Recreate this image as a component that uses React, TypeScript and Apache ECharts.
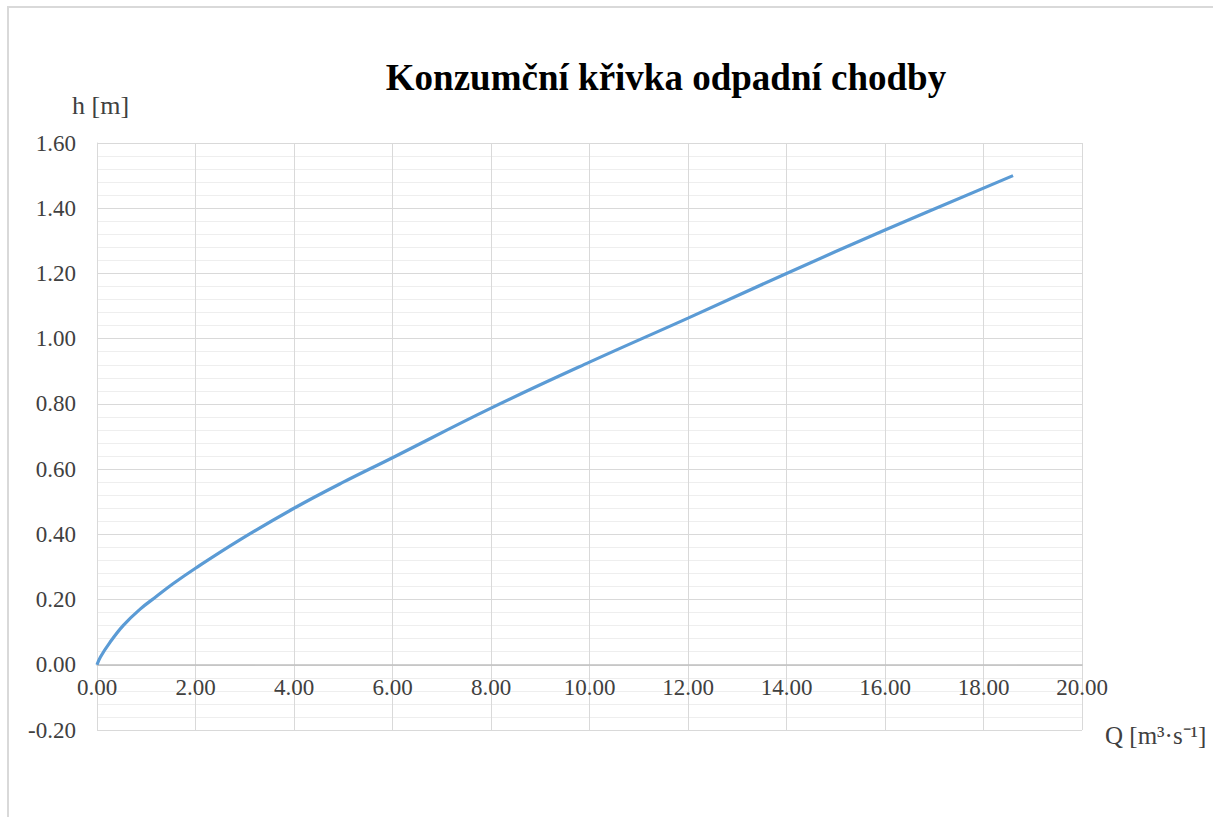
import React, { useEffect, useRef } from "react";
import * as echarts from "echarts";

const titleText = "Konzumční křivka odpadní chodby";
const yAxisName = "h [m]";
const xAxisName = "Q [m³·s⁻¹]";

const flowQ = [0, 0.07, 0.26, 0.53, 0.87, 1.21, 1.55, 2.0, 2.9, 4.0, 5.0, 6.0, 8.0, 10.0, 12.0, 14.0, 16.0, 18.6];
const levelH = [0, 0.024, 0.068, 0.12, 0.17, 0.21, 0.249, 0.296, 0.383, 0.48, 0.56, 0.635, 0.787, 0.928, 1.063, 1.2, 1.333, 1.5];

const serif = "'Liberation Serif', 'Times New Roman', serif";

export default function App() {
  const ref = useRef<HTMLDivElement>(null);
  useEffect(() => {
    if (!ref.current) return;
    const chart = echarts.init(ref.current, null, { renderer: "svg" });
    const data = flowQ.map((q, i) => [q, levelH[i]]);
    chart.setOption({
      animation: false,
      backgroundColor: "#ffffff",
      title: {
        text: titleText,
        left: 661,
        top: 54,
        textAlign: "center",
        textStyle: { fontFamily: serif, fontSize: 37, fontWeight: "bold", color: "#000000" },
      },
      graphic: [
        {
          type: "rect",
          shape: { x: 8, y: 7, width: 1300, height: 900 },
          style: { fill: "none", stroke: "#d9d9d9", lineWidth: 2 },
          silent: true,
        },
        {
          type: "text",
          x: 72,
          y: 105,
          style: { text: yAxisName, font: `26px ${serif}`, fill: "#404040", textVerticalAlign: "middle" },
        },
        {
          type: "text",
          x: 1105,
          y: 735,
          style: { text: xAxisName, font: `25px ${serif}`, fill: "#404040", textVerticalAlign: "middle" },
        },
      ],
      grid: { left: 97, right: 131, top: 143, bottom: 87, containLabel: false },
      xAxis: {
        type: "value",
        min: 0,
        max: 20,
        interval: 2,
        offset: -65.2,
        axisLine: { show: true, onZero: false, lineStyle: { color: "#bfbfbf", width: 1.5 } },
        axisTick: { show: false },
        axisLabel: {
          fontFamily: serif,
          fontSize: 23,
          color: "#404040",
          margin: 11,
          formatter: (v: number) => v.toFixed(2),
        },
        splitLine: { show: true, lineStyle: { color: "#d9d9d9", width: 1 } },
      },
      yAxis: {
        type: "value",
        min: -0.2,
        max: 1.6,
        interval: 0.2,
        axisLine: { show: true, lineStyle: { color: "#d9d9d9", width: 1 } },
        axisTick: { show: false },
        minorTick: { show: false, splitNumber: 5 },
        minorSplitLine: { show: true, lineStyle: { color: "#eeeeee", width: 1 } },
        axisLabel: {
          fontFamily: serif,
          fontSize: 23,
          color: "#404040",
          margin: 21,
          formatter: (v: number) => v.toFixed(2),
        },
        splitLine: { show: true, lineStyle: { color: "#d9d9d9", width: 1 } },
      },
      series: [
        {
          type: "line",
          data,
          smooth: 0.4,
          showSymbol: false,
          symbol: "none",
          lineStyle: { color: "#5b9bd5", width: 3.2 },
        },
      ],
    });
    return () => chart.dispose();
  }, []);
  return <div ref={ref} style={{ position: "fixed", left: 0, top: 0, width: 1213, height: 817 }} />;
}
